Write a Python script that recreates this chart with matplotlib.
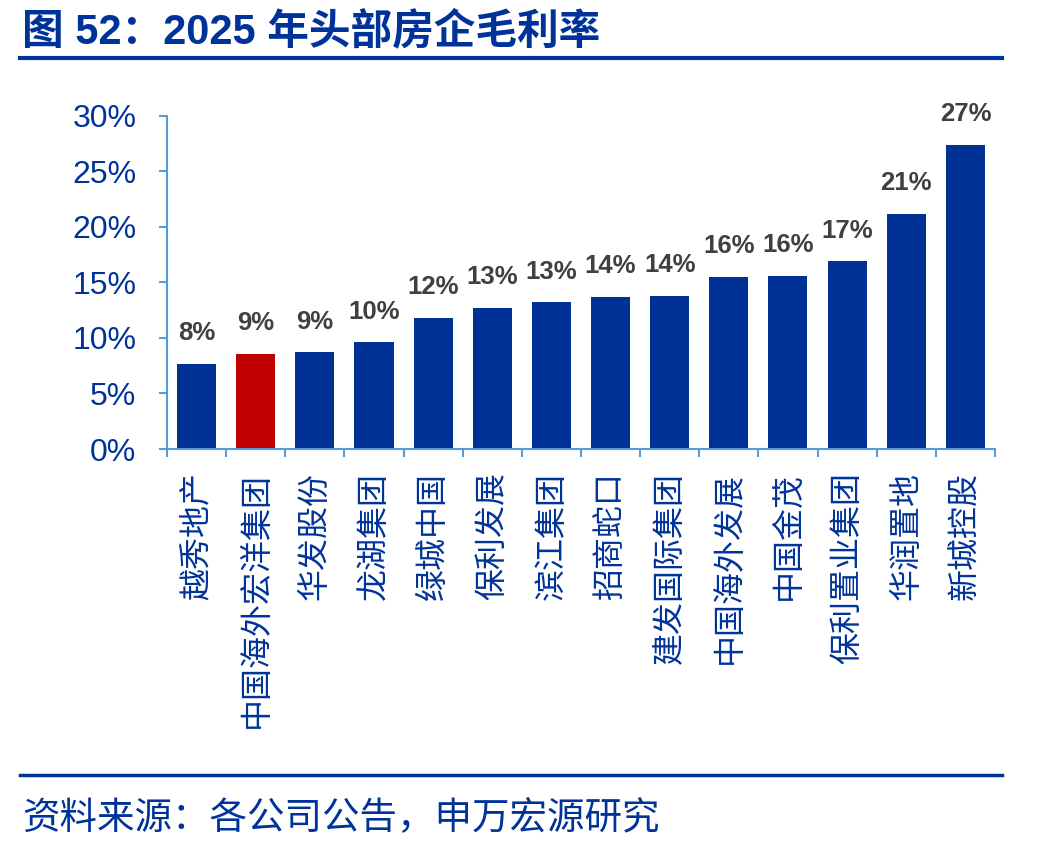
import numpy as np
import matplotlib
matplotlib.use("Agg")
import matplotlib.pyplot as plt
from matplotlib.lines import Line2D

plt.rcParams['font.family'] = ['Liberation Sans', 'Noto Sans CJK SC', 'DejaVu Sans']

# data
companies = ['越秀地产', '中国海外宏洋集团', '华发股份', '龙湖集团', '绿城中国', '保利发展',
             '滨江集团', '招商蛇口', '建发国际集团', '中国海外发展', '中国金茂', '保利置业集团',
             '华润置地', '新城控股']
margin = [7.7, 8.6, 8.7, 9.6, 11.8, 12.7, 13.2, 13.7, 13.8, 15.5, 15.6, 16.9, 21.2, 27.4]
highlight = '中国海外宏洋集团'
yticks = [0, 5, 10, 15, 20, 25, 30]

navy = '#003296'
red = '#C00000'
axis_c = '#5B9BD5'
txt_c = '#003399'

fig = plt.figure(figsize=(10.47, 8.52), dpi=100)
ax = fig.add_axes([0.1595, 0.473, 0.7908, 0.391])

x = np.arange(len(companies))
colors = [red if c == highlight else navy for c in companies]
ax.bar(x, margin, width=0.66, color=colors)

for xi, v in zip(x, margin):
    ax.annotate(f'{v:.0f}%', (xi, v), xytext=(0, 17), textcoords='offset points',
                ha='center', va='baseline', fontsize=18.5, fontweight='bold', color='#404040')

ax.set_xlim(-0.5, len(companies) - 0.5)
ax.set_ylim(0, 30)
ax.set_yticks(yticks)
ax.set_yticklabels([f'{t}%' for t in yticks], fontsize=23, color=txt_c)

ax.set_xticks(x)
ax.set_xticklabels(companies, rotation=90, ha='center', va='top', fontsize=23,
                   color=txt_c, family=['Noto Sans CJK SC'])
ax.set_xticks(np.arange(-0.5, len(companies)), minor=True)
ax.tick_params(axis='x', which='major', length=0, pad=16.5)
ax.tick_params(axis='x', which='minor', length=6, width=1.5, color=axis_c, direction='out')
ax.tick_params(axis='y', length=6, width=1.5, color=axis_c, direction='out', pad=16)

for s in ['top', 'right']:
    ax.spines[s].set_visible(False)
for s in ['left', 'bottom']:
    ax.spines[s].set_color(axis_c)
    ax.spines[s].set_linewidth(1.5)

# title and footer
fig.text(0.021, 0.963, '图 52：2025 年头部房企毛利率', fontsize=30, fontweight='bold',
         color=txt_c, va='center', ha='left')
fig.add_artist(Line2D([0.019, 0.957], [1 - 58 / 852] * 2, color=txt_c, lw=3))
fig.add_artist(Line2D([0.019, 0.957], [1 - 775 / 852] * 2, color=txt_c, lw=2.5))
fig.text(0.021, 0.039, '资料来源：各公司公告，申万宏源研究', fontsize=27,
         color=txt_c, va='center', ha='left', family=['Noto Sans CJK SC'])

fig.savefig('out.png', dpi=100)
